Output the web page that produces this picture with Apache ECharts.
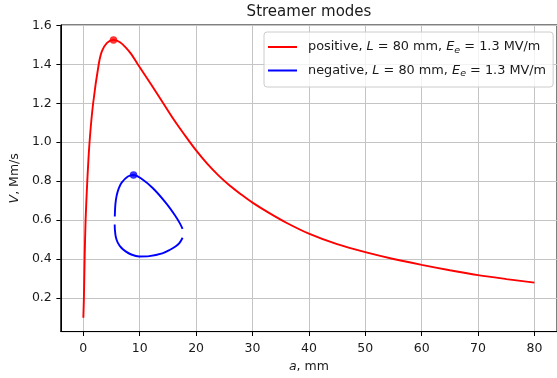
<!DOCTYPE html>
<html><head><meta charset="utf-8">
<script src="https://cdn.jsdelivr.net/npm/echarts@6/dist/echarts.min.js"></script>
<style>html,body{margin:0;padding:0;background:#fff}#c{width:557px;height:378px}</style>
</head><body><div id="c"></div>
<script>
const titleText = 'Streamer modes';
const xTicks = [0, 10, 20, 30, 40, 50, 60, 70, 80];
const yTicks = [0.2, 0.4, 0.6, 0.8, 1.0, 1.2, 1.4, 1.6];
const seriesNames = ['positive', 'negative'];

// positive streamer: a (mm), V (Mm/s)
const posA = [0, 0.1, 0.23, 0.4, 0.7, 1.1, 1.74, 2.73, 3.3, 4.2, 5.35, 6.5, 7.5, 8.5, 9.65, 12, 14, 16, 18, 20, 22, 24, 26, 28, 30, 33, 36, 40, 45, 50, 55, 60, 65, 70, 75, 80];
const posV = [0.1, 0.2, 0.4, 0.6, 0.8, 1.0, 1.2, 1.4, 1.467, 1.51, 1.525, 1.513, 1.487, 1.452, 1.4, 1.298, 1.208, 1.118, 1.036, 0.958, 0.889, 0.829, 0.777, 0.732, 0.69, 0.636, 0.587, 0.531, 0.477, 0.436, 0.401, 0.371, 0.343, 0.318, 0.298, 0.28];

// negative streamer, upper branch
const negUpA = [5.58, 5.68, 5.9, 6.3, 6.8, 7.9, 8.9, 10.2, 12.3, 14.6, 16.3, 17.1, 17.6];
const negUpV = [0.619, 0.68, 0.725, 0.765, 0.793, 0.824, 0.832, 0.815, 0.765, 0.69, 0.623, 0.585, 0.556];
// negative streamer, lower branch
const negLoA = [5.56, 5.6, 5.75, 6.1, 6.7, 7.5, 8.5, 9.9, 11.7, 14.0, 15.3, 16.4, 17.1, 17.6];
const negLoV = [0.578, 0.55, 0.515, 0.485, 0.46, 0.44, 0.424, 0.414, 0.416, 0.43, 0.447, 0.466, 0.485, 0.51];

const posPeak = [5.35, 1.525];
const negPeak = [8.9, 0.832];

const zip = (a, b) => a.map((v, i) => [v, b[i]]);
const FONT = 'DejaVu Sans';
const TXT = '#1a1a1a';

const chart = echarts.init(document.getElementById('c'), null, {renderer: 'canvas'});
const richAxis = {
  i: {fontStyle: 'italic', fontFamily: FONT, fontSize: 12.5, color: TXT}
};
const richLeg = {
  i: {fontStyle: 'italic', fontFamily: FONT, fontSize: 12.85, color: TXT},
  s: {fontStyle: 'italic', fontFamily: FONT, fontSize: 9.5, color: TXT, padding: [7, 0, 0, 0]}
};
chart.setOption({
  animation: false,
  backgroundColor: '#fff',
  textStyle: {fontFamily: FONT},
  title: {
    text: titleText, left: 309, top: 5, textAlign: 'center', padding: 0,
    textStyle: {fontFamily: FONT, fontSize: 15, fontWeight: 'normal', color: TXT}
  },
  grid: {left: 57, top: 25, width: 504, height: 313.5, show: true, borderColor: '#000', borderWidth: 1, backgroundColor: 'transparent', containLabel: false},
  legend: {
    data: seriesNames,
    orient: 'vertical', left: 264, top: 32,
    padding: [7, 7, 8, 4], itemGap: 7,
    icon: 'rect', itemWidth: 29, itemHeight: 2,
    backgroundColor: 'rgba(255,255,255,0.8)', borderColor: '#cccccc', borderWidth: 1, borderRadius: 3,
    textStyle: {fontFamily: FONT, fontSize: 12.85, color: TXT, lineHeight: 16, padding: [0, 0, 0, 6], rich: richLeg},
    formatter: function (name) {
      return name + ', {i|L} = 80 mm, {i|E}{s|e} = 1.3 MV/m';
    }
  },
  xAxis: {
    type: 'value', min: -4, max: 84,
    name: '{i|a}, mm', nameLocation: 'middle', nameGap: 27,
    nameTextStyle: {fontFamily: FONT, fontSize: 12.5, color: TXT, rich: richAxis},
    axisLine: {show: true, onZero: false, lineStyle: {color: '#000', width: 1}},
    axisTick: {show: true, length: 4.4, lineStyle: {color: '#000', width: 1}, customValues: xTicks},
    axisLabel: {show: true, margin: 10.5, fontFamily: FONT, fontSize: 12.5, color: TXT, customValues: xTicks, formatter: v => String(v)},
    splitLine: {show: true, lineStyle: {color: '#c4c4c4', width: 1}}
  },
  yAxis: {
    type: 'value', min: 0.0285, max: 1.6015,
    name: '{i|V}, Mm/s', nameLocation: 'middle', nameGap: 36,
    nameTextStyle: {fontFamily: FONT, fontSize: 12.5, color: TXT, rich: richAxis},
    axisLine: {show: true, onZero: false, lineStyle: {color: '#000', width: 1}},
    axisTick: {show: true, length: 4.4, lineStyle: {color: '#000', width: 1}, customValues: yTicks},
    axisLabel: {show: true, margin: 9, fontFamily: FONT, fontSize: 12.5, color: TXT, customValues: yTicks, formatter: v => v.toFixed(1)},
    splitLine: {show: true, lineStyle: {color: '#c4c4c4', width: 1}}
  },
  series: [
    {name: 'positive', type: 'line', data: zip(posA, posV), showSymbol: false, symbol: 'none',
     smooth: 0.3, lineStyle: {color: '#ff0000', width: 1.9}, itemStyle: {color: '#ff0000'}, z: 3},
    {name: 'negative', type: 'line', data: zip(negUpA, negUpV), showSymbol: false, symbol: 'none',
     smooth: 0.3, lineStyle: {color: '#0000ff', width: 1.9}, itemStyle: {color: '#0000ff'}, z: 3},
    {name: 'negative', type: 'line', data: zip(negLoA, negLoV), showSymbol: false, symbol: 'none',
     smooth: 0.3, lineStyle: {color: '#0000ff', width: 1.9}, itemStyle: {color: '#0000ff'}, z: 3},
    {name: 'positive max', type: 'scatter', data: [posPeak], symbol: 'circle', symbolSize: 7.5, itemStyle: {color: '#ff0000'}, z: 4},
    {name: 'negative max', type: 'scatter', data: [negPeak], symbol: 'circle', symbolSize: 7.5, itemStyle: {color: '#0000ff'}, z: 4}
  ]
});
</script>
</body></html>
